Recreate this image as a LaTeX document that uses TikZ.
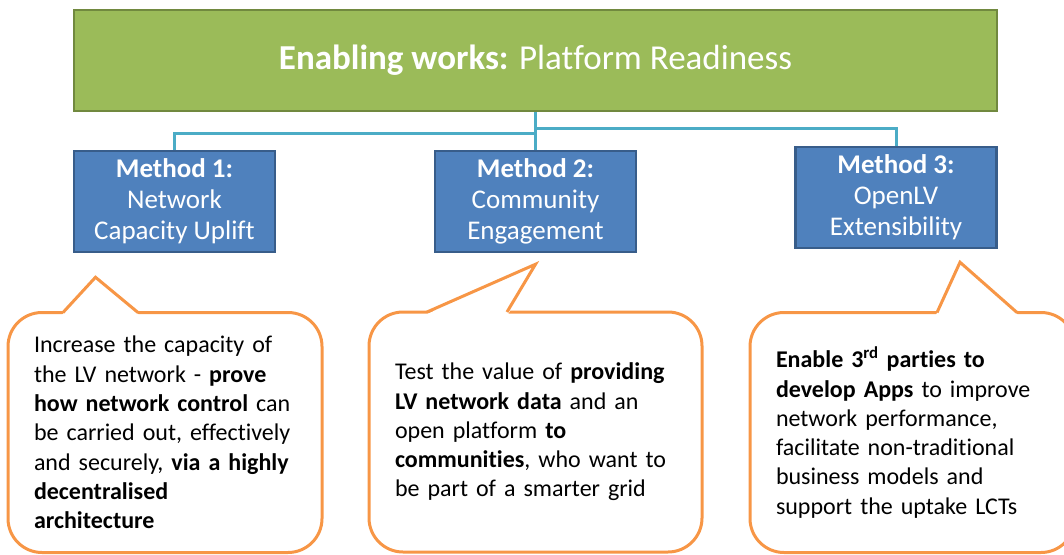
\documentclass[tikz,border=0pt]{standalone}
\usepackage{fontspec}
\setmainfont{Carlito}[Ligatures=NoCommon]
\usetikzlibrary{calc}

\definecolor{boxgreen}{HTML}{9BBB59}
\definecolor{boxgreenline}{HTML}{71893F}
\definecolor{boxblue}{HTML}{4F81BD}
\definecolor{boxblueline}{HTML}{385D8A}
\definecolor{linkteal}{HTML}{4BACC6}
\definecolor{calloutorange}{HTML}{F79646}

\begin{document}
\begin{tikzpicture}[x=1pt,y=-1pt,
  greenbox/.style={draw=boxgreenline,fill=boxgreen,line width=2.5pt,minimum width=923pt,minimum height=101pt,text=white,font=\fontsize{35}{42}\selectfont},
  bluebox/.style={draw=boxblueline,fill=boxblue,line width=2.5pt,minimum width=201pt,minimum height=101pt,inner sep=0pt,text=white,align=center,font=\fontsize{27}{31}\selectfont},
  callbox/.style={draw=calloutorange,line width=3pt,rounded corners=34pt,outer sep=0pt,minimum height=240pt,inner xsep=26pt,align=left,font=\fontsize{24}{29.3}\selectfont},
  callline/.style={draw=calloutorange,line width=3pt},
  link/.style={draw=linkteal,line width=3pt}]
\useasboundingbox (0,0) rectangle (1064,554);
\clip (0,0) rectangle (1064,554);

\node[greenbox] (title) at (535.5,60.5) {\textbf{Enabling works:} Platform Readiness};

\node[bluebox] (m1) at (174.5,201.5) {\textbf{Method 1:}\\Network\\Capacity Uplift};
\node[bluebox] (m2) at (535.5,201.5) {\textbf{Method 2:}\\Community\\Engagement};
\node[bluebox] (m3) at (896,197.5)   {\textbf{Method 3:}\\OpenLV\\Extensibility};

\draw[link] (title.south) -- ++(0,21) -| (m1.north);
\draw[link] (title.south) -- (m2.north);
\draw[link] (title.south) -- ++(0,16) -| (m3.north);

% callouts
\node[callbox,text width=262pt] (c1) at (165,432.5) {Increase the capacity of\\
  the LV network - \textbf{prove}\\
  \textbf{how network control} can\\
  be carried out, effectively\\
  and securely, \textbf{via a highly}\\
  \textbf{decentralised}\\
  \textbf{architecture}};
\node[callbox,text width=281pt] (c2) at (535.5,432) {Test the value of \textbf{providing}\\
  \textbf{LV network data} and an\\
  open platform \textbf{to}\\
  \textbf{communities}, who want to\\
  be part of a smarter grid};
\node[callbox,text width=273pt] (c3) at (912.5,432.5) {\textbf{Enable 3\textsuperscript{rd} parties to}\\
  \textbf{develop Apps} to improve\\
  network performance,\\
  facilitate non-traditional\\
  business models and\\
  support the uptake LCTs};

\coordinate (t1) at ($(m1.south)+(-79,24)$);
\coordinate (t2) at ($(m2.south)+(0,11)$);
\coordinate (t3) at ($(m3.south)+(64,13)$);

\fill[white] ($(c1.north west)+(54,2.5)$) -- (t1) -- ($(c1.north west)+(131,2.5)$) -- cycle;
\draw[callline] ($(c1.north west)+(55,0)$) -- (t1) -- ($(c1.north west)+(130,0)$);
\fill[white] ($(c2.north west)+(57,2.5)$) -- (t2) -- ($(c2.north west)+(139,2.5)$) -- cycle;
\draw[callline] ($(c2.north west)+(58,0)$) -- (t2) -- ($(c2.north west)+(138,0)$);
\fill[white] ($(c3.north west)+(186,2.5)$) -- (t3) -- ($(c3.north west)+(268,2.5)$) -- cycle;
\draw[callline] ($(c3.north west)+(187,0)$) -- (t3) -- ($(c3.north west)+(267,0)$);
\end{tikzpicture}
\end{document}
